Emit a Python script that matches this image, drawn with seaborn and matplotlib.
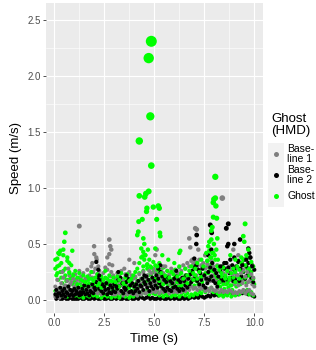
import numpy as np
import pandas as pd
import matplotlib
matplotlib.use("Agg")
import matplotlib.pyplot as plt
import seaborn as sns
from matplotlib.colors import PowerNorm
from matplotlib.patches import Rectangle
from matplotlib.lines import Line2D

# ---------------- data ----------------
series_names = ["Baseline 1", "Baseline 2", "Ghost"]
legend_labels = ["Base-\nline 1", "Base-\nline 2", "Ghost"]
legend_title = "Ghost\n(HMD)"
series_colors = ["#7F7F7F", "#000000", "#00FF00"]
x_ticks = [0, 2.5, 5, 7.5, 10]
x_tick_labels = ["0.0", "2.5", "5.0", "7.5", "10.0"]
y_ticks = [0, 0.5, 1.0, 1.5, 2.0, 2.5]
y_tick_labels = ["0.0", "0.5", "1.0", "1.5", "2.0", "2.5"]

# sample times (s) of the two interleaved sampling grids
time_a = np.round(np.arange(100) * 0.1 + 0.05, 2)
time_b = np.round(time_a + 0.05, 2)

ghost_hi = [0.36,0.30,0.42,0.33,0.40,0.28,0.35,0.24,0.31,0.22,
            0.26,0.20,0.24,0.18,0.22,0.16,0.21,0.19,0.25,0.17,
            0.20,0.23,0.15,0.21,0.18,0.26,0.19,0.22,0.17,0.20,
            0.16,0.21,0.18,0.24,0.15,0.20,0.23,0.17,0.19,0.22,
            0.25,0.28,0.33,0.38,0.30,0.40,0.32,0.36,0.29,0.34,
            0.31,0.27,0.33,0.24,0.29,0.22,0.26,0.20,0.25,0.23,
            0.27,0.21,0.30,0.24,0.19,0.28,0.22,0.26,0.30,0.24,
            0.28,0.33,0.25,0.36,0.30,0.40,0.35,0.44,0.38,0.42,
            0.36,0.30,0.27,0.24,0.29,0.22,0.26,0.20,0.24,0.28,
            0.25,0.30,0.27,0.33,0.36,0.31,0.38,0.28,0.34,0.30]
ghost_mid2 = [0.28,0.24,0.31,0.20,0.26,0.22,0.18,0.25,0.20,0.23,
              0.18,0.14,0.20,0.12,0.17,0.13,0.18,0.15,0.19,0.14,
              0.16,0.13,0.19,0.11,0.15,0.20,0.14,0.17,0.12,0.16,
              0.14,0.17,0.12,0.19,0.15,0.13,0.17,0.11,0.18,0.14,
              0.20,0.17,0.24,0.19,0.26,0.21,0.28,0.18,0.23,0.25,
              0.19,0.23,0.17,0.21,0.14,0.20,0.18,0.22,0.15,0.19,
              0.21,0.16,0.23,0.13,0.19,0.22,0.15,0.20,0.24,0.18,
              0.22,0.19,0.26,0.21,0.28,0.24,0.30,0.26,0.32,0.27,
              0.24,0.20,0.16,0.21,0.14,0.19,0.15,0.18,0.13,0.20,
              0.16,0.21,0.19,0.24,0.26,0.20,0.28,0.22,0.25,0.19]
ghost_mid = [0.22,0.18,0.25,0.15,0.20,0.17,0.12,0.19,0.14,0.16,
             0.13,0.10,0.15,0.08,0.12,0.09,0.14,0.11,0.13,0.10,
             0.12,0.09,0.14,0.07,0.11,0.15,0.10,0.13,0.08,0.12,
             0.10,0.13,0.08,0.14,0.11,0.09,0.12,0.07,0.13,0.10,
             0.15,0.12,0.18,0.14,0.20,0.16,0.22,0.13,0.17,0.19,
             0.14,0.18,0.12,0.16,0.10,0.15,0.13,0.17,0.11,0.14,
             0.16,0.12,0.18,0.09,0.14,0.17,0.11,0.15,0.19,0.13,
             0.17,0.14,0.20,0.16,0.22,0.18,0.24,0.20,0.26,0.21,
             0.19,0.15,0.12,0.16,0.10,0.14,0.11,0.13,0.09,0.15,
             0.12,0.16,0.14,0.18,0.20,0.15,0.22,0.17,0.19,0.14]
ghost_lo = [0.08,0.05,0.10,0.04,0.07,0.06,0.03,0.08,0.05,0.06,
            0.04,0.06,0.03,0.05,0.02,0.05,0.04,0.03,0.06,0.04,
            0.05,0.03,0.06,0.02,0.04,0.05,0.03,0.06,0.02,0.04,
            0.03,0.05,0.02,0.04,0.06,0.03,0.05,0.02,0.04,0.03,
            0.06,0.04,0.07,0.05,0.08,0.06,0.09,0.05,0.07,0.06,
            0.05,0.07,0.04,0.06,0.03,0.05,0.04,0.06,0.03,0.05,
            0.04,0.06,0.03,0.05,0.07,0.04,0.06,0.03,0.05,0.04,
            0.06,0.05,0.08,0.06,0.09,0.07,0.10,0.08,0.11,0.07,
            0.08,0.06,0.04,0.05,0.03,0.05,0.04,0.06,0.03,0.05,
            0.04,0.06,0.05,0.07,0.08,0.06,0.09,0.05,0.07,0.04]
ghost_peak_t = [0.55,0.50,0.30,0.20,0.25,0.45,0.90,0.65,0.15,0.75,
                4.25,4.72,4.85,4.80,4.85,4.25,4.52,4.58,4.72,4.63,4.61,4.95,5.20,5.25,
                4.40,4.22,4.15,4.20,5.12,5.28,5.30,4.45,4.50,4.45,4.55,4.50,4.62,4.80,
                4.68,5.05,4.35,4.42,5.40,5.15,
                6.25,6.30,6.00,5.70,
                8.05,8.05,7.98,7.95,8.08,8.12,7.95,7.90,7.85,7.75,7.98,8.15,7.70,8.10,
                7.90,8.02,7.60,7.80,8.18,7.65,7.85,
                9.54,9.45,9.50,9.70,9.60,9.35,8.80,9.05]
ghost_peak_v = [0.60,0.52,0.44,0.42,0.41,0.45,0.44,0.38,0.37,0.33,
                1.42,2.16,2.31,1.64,1.20,0.93,0.92,0.95,0.97,0.82,0.79,0.83,0.84,0.82,
                0.72,0.70,0.58,0.61,0.72,0.60,0.57,0.55,0.50,0.43,0.40,0.36,0.31,0.30,
                0.45,0.46,0.46,0.39,0.40,0.30,
                0.42,0.44,0.33,0.36,
                1.10,0.91,0.90,0.87,0.84,0.73,0.74,0.65,0.62,0.52,0.50,0.55,0.48,0.45,
                0.42,0.40,0.42,0.38,0.36,0.35,0.54,
                0.68,0.57,0.52,0.45,0.40,0.38,0.40,0.36]

base1_hi = [0.12,0.18,0.10,0.15,0.20,0.13,0.17,0.22,0.16,0.19,
            0.23,0.18,0.26,0.21,0.24,0.19,0.27,0.22,0.30,0.25,
            0.28,0.23,0.26,0.20,0.24,0.29,0.27,0.32,0.25,0.22,
            0.19,0.24,0.21,0.26,0.18,0.23,0.20,0.25,0.22,0.19,
            0.21,0.17,0.23,0.19,0.25,0.20,0.22,0.26,0.24,0.28,
            0.25,0.29,0.22,0.27,0.24,0.30,0.26,0.23,0.28,0.25,
            0.27,0.24,0.29,0.26,0.31,0.28,0.33,0.30,0.35,0.32,
            0.34,0.30,0.36,0.31,0.33,0.28,0.32,0.29,0.35,0.30,
            0.27,0.31,0.26,0.29,0.24,0.28,0.25,0.30,0.27,0.23,
            0.26,0.22,0.28,0.24,0.27,0.21,0.25,0.28,0.23,0.20]
base1_mid = [0.07,0.10,0.06,0.09,0.12,0.08,0.11,0.14,0.09,0.12,
             0.15,0.11,0.17,0.13,0.16,0.12,0.18,0.14,0.20,0.16,
             0.18,0.14,0.17,0.12,0.15,0.19,0.16,0.21,0.15,0.13,
             0.12,0.16,0.13,0.17,0.11,0.15,0.13,0.16,0.14,0.12,
             0.13,0.10,0.15,0.12,0.16,0.13,0.14,0.17,0.15,0.18,
             0.16,0.19,0.14,0.18,0.15,0.20,0.17,0.14,0.18,0.16,
             0.17,0.15,0.19,0.16,0.20,0.18,0.21,0.19,0.23,0.20,
             0.22,0.19,0.24,0.20,0.21,0.18,0.20,0.17,0.22,0.19,
             0.17,0.20,0.16,0.18,0.15,0.17,0.16,0.19,0.17,0.14,
             0.16,0.13,0.17,0.15,0.18,0.13,0.16,0.18,0.14,0.12]
base1_lo = [0.03,0.05,0.02,0.04,0.06,0.03,0.05,0.07,0.04,0.06,
            0.07,0.05,0.08,0.06,0.07,0.05,0.09,0.06,0.10,0.07,
            0.09,0.06,0.08,0.05,0.07,0.09,0.07,0.10,0.06,0.05,
            0.05,0.07,0.06,0.08,0.04,0.07,0.05,0.07,0.06,0.05,
            0.06,0.04,0.07,0.05,0.08,0.06,0.07,0.08,0.07,0.09,
            0.07,0.09,0.06,0.08,0.07,0.10,0.08,0.06,0.09,0.07,
            0.08,0.07,0.09,0.07,0.10,0.08,0.11,0.09,0.12,0.10,
            0.11,0.09,0.12,0.10,0.11,0.08,0.10,0.08,0.11,0.09,
            0.08,0.10,0.07,0.09,0.07,0.08,0.07,0.09,0.08,0.06,
            0.07,0.06,0.08,0.07,0.09,0.06,0.08,0.09,0.06,0.05]
base1_peak_t = [1.25,1.99,2.00,2.10,2.12,1.90,2.20,2.75,2.75,2.80,2.85,2.65,2.90,
                3.75,4.00,3.50,5.05,5.12,5.45,6.75,6.80,7.12,7.05,7.20,6.90,7.55,
                8.40,8.95,9.20,0.70,0.40]
base1_peak_v = [0.66,0.48,0.41,0.38,0.36,0.33,0.30,0.54,0.41,0.48,0.45,0.38,0.31,
                0.36,0.33,0.28,0.40,0.45,0.30,0.55,0.47,0.63,0.64,0.45,0.36,0.40,
                0.91,0.45,0.40,0.28,0.25]

base2_hi = [0.09,0.06,0.11,0.08,0.10,0.07,0.12,0.09,0.08,0.10,
            0.08,0.11,0.07,0.10,0.13,0.09,0.12,0.08,0.14,0.11,
            0.16,0.20,0.18,0.14,0.12,0.15,0.10,0.13,0.11,0.14,
            0.12,0.18,0.20,0.15,0.11,0.16,0.19,0.13,0.15,0.12,
            0.14,0.17,0.13,0.19,0.16,0.21,0.18,0.15,0.20,0.17,
            0.22,0.19,0.25,0.21,0.18,0.16,0.20,0.17,0.15,0.19,
            0.21,0.18,0.16,0.20,0.17,0.22,0.19,0.23,0.26,0.29,
            0.31,0.27,0.24,0.28,0.22,0.19,0.25,0.29,0.33,0.27,
            0.24,0.21,0.26,0.30,0.28,0.33,0.29,0.36,0.31,0.27,
            0.30,0.34,0.28,0.32,0.36,0.30,0.33,0.38,0.31,0.27]
base2_mid = [0.05,0.03,0.06,0.04,0.05,0.03,0.06,0.04,0.05,0.04,
             0.05,0.06,0.04,0.05,0.07,0.05,0.06,0.04,0.07,0.06,
             0.09,0.12,0.10,0.08,0.06,0.09,0.05,0.07,0.06,0.08,
             0.07,0.10,0.12,0.08,0.06,0.09,0.11,0.07,0.08,0.06,
             0.08,0.10,0.07,0.12,0.09,0.14,0.11,0.08,0.12,0.10,
             0.13,0.11,0.15,0.12,0.10,0.08,0.11,0.09,0.08,0.11,
             0.12,0.10,0.08,0.11,0.09,0.13,0.11,0.14,0.16,0.18,
             0.20,0.17,0.14,0.18,0.13,0.11,0.15,0.18,0.21,0.17,
             0.15,0.12,0.16,0.19,0.17,0.21,0.18,0.24,0.20,0.17,
             0.19,0.22,0.17,0.21,0.25,0.19,0.22,0.26,0.20,0.16]
base2_lo = [0.01,0.02,0.01,0.01,0.02,0.01,0.01,0.02,0.01,0.01,
            0.01,0.01,0.02,0.01,0.01,0.02,0.01,0.01,0.02,0.01,
            0.02,0.01,0.01,0.02,0.01,0.01,0.02,0.01,0.01,0.02,
            0.01,0.02,0.01,0.01,0.02,0.01,0.01,0.02,0.01,0.01,
            0.02,0.01,0.03,0.02,0.01,0.02,0.03,0.01,0.02,0.01,
            0.01,0.02,0.01,0.02,0.01,0.01,0.02,0.01,0.02,0.01,
            0.02,0.01,0.01,0.02,0.01,0.02,0.01,0.02,0.03,0.02,
            0.03,0.02,0.04,0.03,0.02,0.03,0.04,0.03,0.05,0.04,
            0.05,0.04,0.06,0.05,0.07,0.05,0.06,0.08,0.06,0.05,
            0.06,0.05,0.07,0.06,0.08,0.06,0.05,0.07,0.04,0.03]
base2_peak_t = [7.80,7.87,8.60,8.70,7.12,7.10,7.00,8.65,8.70,9.00,9.29,9.70,9.75,9.80,
                9.00,9.60,7.70,7.85,8.50,9.20,9.40,2.10,2.20,2.25,3.20,4.50,5.20,5.30,
                3.60,6.10,8.30,9.90]
base2_peak_v = [0.67,0.60,0.64,0.68,0.58,0.50,0.37,0.48,0.50,0.50,0.54,0.46,0.42,0.38,
                0.38,0.36,0.40,0.45,0.33,0.35,0.31,0.34,0.27,0.22,0.25,0.22,0.28,0.31,
                0.22,0.26,0.30,0.30]

# ---------------- assemble (row order = drawing order) ----------------
def block(t, v, g):
    return pd.DataFrame({"time": np.asarray(t, float), "speed": np.asarray(v, float), "group": g})

df = pd.concat([
    block(time_b, base2_lo, "Baseline 2"),
    block(time_a, ghost_lo, "Ghost"),
    block(time_b, ghost_mid, "Ghost"),
    block(time_a, base1_lo, "Baseline 1"),
    block(time_b, base1_mid, "Baseline 1"),
    block(time_a, base2_mid, "Baseline 2"),
    block(time_a, ghost_mid2, "Ghost"),
    block(time_a, base1_hi, "Baseline 1"),
    block(time_b, base2_hi, "Baseline 2"),
    block(time_a, ghost_hi, "Ghost"),
    block(base1_peak_t, base1_peak_v, "Baseline 1"),
    block(base2_peak_t, base2_peak_v, "Baseline 2"),
    block(ghost_peak_t, ghost_peak_v, "Ghost"),
], ignore_index=True)

# ---------------- figure ----------------
W, H = 316, 350
fig = plt.figure(figsize=(W / 100, H / 100), dpi=100)
fig.patch.set_facecolor("white")
L, R, T, B = 46, 263, 3, 313
ax = fig.add_axes([L / W, 1 - B / H, (R - L) / W, (B - T) / H])
ax.set_facecolor("#EBEBEB")

px = 0.72  # points per pixel at 100 dpi
smin, smax = (4.0 * px) ** 2, (11.0 * px) ** 2
sns.scatterplot(data=df, x="time", y="speed", hue="group", hue_order=series_names,
                palette=series_colors, size="speed", sizes=(smin, smax),
                size_norm=PowerNorm(gamma=2.0, vmin=0.0, vmax=2.31),
                linewidth=0, alpha=1, legend=False, ax=ax, zorder=3)

ax.set_xlim(-0.415, 10.435)
ax.set_ylim(-0.116, 2.652)
ax.set_xticks(x_ticks)
ax.set_xticklabels(x_tick_labels)
ax.set_yticks(y_ticks)
ax.set_yticklabels(y_tick_labels)
ax.set_xticks([1.25, 3.75, 6.25, 8.75], minor=True)
ax.set_yticks([0.25, 0.75, 1.25, 1.75, 2.25], minor=True)
ax.grid(which="major", color="white", linewidth=0.8, zorder=0)
ax.grid(which="minor", color="white", linewidth=0.4, zorder=0)
ax.set_axisbelow(True)
for s in ax.spines.values():
    s.set_visible(False)
font = "Liberation Sans"
ax.tick_params(which="major", length=2.0, width=0.6, color="#333333",
               labelcolor="#4D4D4D", labelsize=7, pad=1.5)
ax.tick_params(which="minor", length=0)
for lab in ax.get_xticklabels() + ax.get_yticklabels():
    lab.set_fontfamily(font)
ax.set_xlabel("Time (s)", fontsize=9.5, family=font, labelpad=4)
ax.set_ylabel("Speed (m/s)", fontsize=9.5, family=font, labelpad=4)

# ---------------- legend (ggplot style) ----------------
def fx(x):
    return x / W

def fy(y):
    return 1 - y / H

fig.text(fx(271), fy(113), legend_title, fontsize=9.5, family=font, va="top", ha="left",
         linespacing=1.05)
fig.add_artist(Rectangle((fx(268), fy(207)), 16 / W, 64 / H, transform=fig.transFigure,
                         facecolor="#F2F2F2", edgecolor="none"))
key_y = [154, 175, 196]
for yy, col, lab in zip(key_y, series_colors, legend_labels):
    fig.add_artist(Line2D([fx(276)], [fy(yy)], marker="o", markersize=5.0 * px,
                          markerfacecolor=col, markeredgewidth=0, linestyle="none",
                          transform=fig.transFigure))
    fig.text(fx(287), fy(yy), lab, fontsize=7.5, family=font, va="center", ha="left",
             linespacing=0.95)

fig.savefig("out.png", dpi=100)
